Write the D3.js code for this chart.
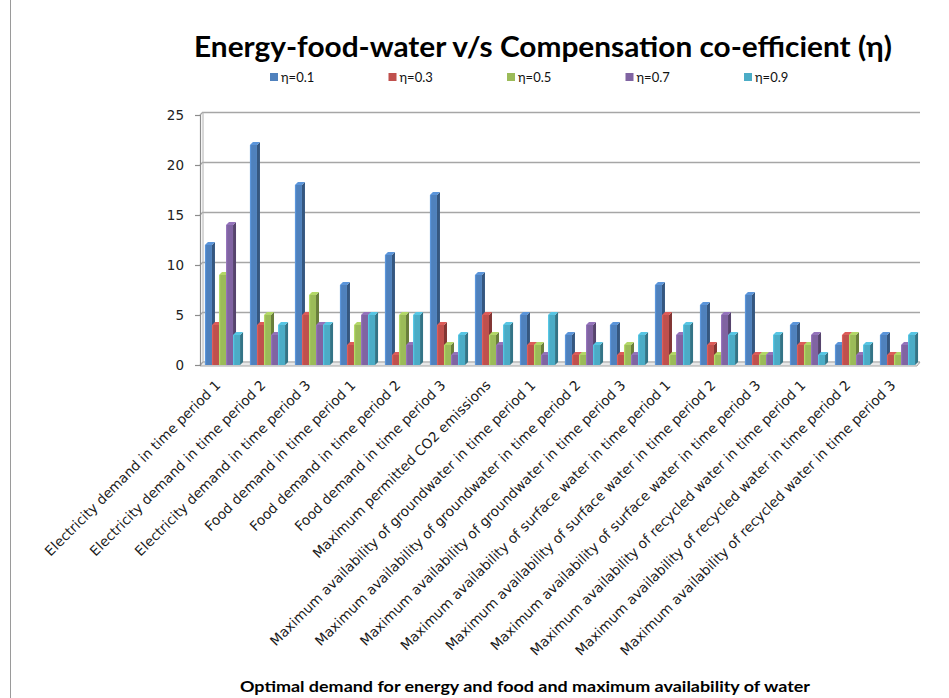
<!DOCTYPE html>
<html>
<head>
<meta charset="utf-8">
<script src="https://cdn.jsdelivr.net/npm/d3@7"></script>
<style>
  html, body { margin: 0; padding: 0; background: #fff; }
  svg { display: block; }
</style>
</head>
<body>
<svg id="chart" width="949" height="698"></svg>
<script>
const categories = [
  "Electricity demand in time period 1",
  "Electricity demand in time period 2",
  "Electricity demand in time period 3",
  "Food demand in time period 1",
  "Food demand in time period 2",
  "Food demand in time period 3",
  "Maximum permitted CO2 emissions",
  "Maximum availability of groundwater in time period 1",
  "Maximum availability of groundwater in time period 2",
  "Maximum availability of groundwater in time period 3",
  "Maximum availability of surface water in time period 1",
  "Maximum availability of surface water in time period 2",
  "Maximum availability of surface water in time period 3",
  "Maximum availability of recycled water in time period 1",
  "Maximum availability of recycled water in time period 2",
  "Maximum availability of recycled water in time period 3"
];
const seriesNames = ["η=0.1", "η=0.3", "η=0.5", "η=0.7", "η=0.9"];
const eta01 = [12, 22, 18, 8, 11, 17, 9, 5, 3, 4, 8, 6, 7, 4, 2, 3];
const eta03 = [4, 4, 5, 2, 1, 4, 5, 2, 1, 1, 5, 2, 1, 2, 3, 1];
const eta05 = [9, 5, 7, 4, 5, 2, 3, 2, 1, 2, 1, 1, 1, 2, 3, 1];
const eta07 = [14, 3, 4, 5, 2, 1, 2, 1, 4, 1, 3, 5, 1, 3, 1, 2];
const eta09 = [3, 4, 4, 5, 5, 3, 4, 5, 2, 3, 4, 3, 3, 1, 2, 3];
const yTicks = [0, 5, 10, 15, 20, 25];
const titleText = "Energy-food-water v/s Compensation co-efficient (η)";
const xTitleText = "Optimal demand for energy and food and maximum availability  of water";

const seriesValues = [eta01, eta03, eta05, eta07, eta09];
const colors = ["#4F81BD", "#C0504D", "#9BBB59", "#8064A2", "#4BACC6"];

const svg = d3.select("#chart");

// chart area border
svg.append("line").attr("x1", 10.5).attr("x2", 10.5).attr("y1", 0).attr("y2", 698)
  .attr("stroke", "#9a9a9a").attr("stroke-width", 1);

const plotL = 200, plotR = 920, plotT = 115, plotB = 365;
const depth = 3;

const x0 = d3.scaleBand().domain(categories).range([plotL, plotR]).paddingInner(0.22).paddingOuter(0.11);
const x1 = d3.scaleBand().domain(seriesNames).range([0, x0.bandwidth()]);
const y = d3.scaleLinear().domain([0, 25]).range([plotB, plotT]);

// gridlines (back wall)
const grid = svg.append("g");
yTicks.forEach(t => {
  const yy = y(t);
  grid.append("line").attr("x1", plotL + depth).attr("x2", plotR)
    .attr("y1", yy - depth + 0.5).attr("y2", yy - depth + 0.5)
    .attr("stroke", "#a6a6a6").attr("stroke-width", 1.6);
  grid.append("line").attr("x1", plotL).attr("x2", plotL + depth)
    .attr("y1", yy).attr("y2", yy - depth)
    .attr("stroke", "#a6a6a6").attr("stroke-width", 1.2);
});
grid.append("line").attr("x1", plotL + depth).attr("x2", plotL + depth)
  .attr("y1", y(25) - depth).attr("y2", y(0) - depth)
  .attr("stroke", "#b0b0b0").attr("stroke-width", 1);

// floor
svg.append("path")
  .attr("d", `M${plotL},${plotB + 1} L${plotR - depth},${plotB + 1} L${plotR},${plotB - depth} L${plotL + depth},${plotB - depth} Z`)
  .attr("fill", "#e8e8e8").attr("stroke", "#a6a6a6").attr("stroke-width", 1);

// y axis
const yAxisG = svg.append("g");
yAxisG.append("line").attr("x1", plotL + 0.5).attr("x2", plotL + 0.5)
  .attr("y1", y(25)).attr("y2", y(0) + 1).attr("stroke", "#8c8c8c").attr("stroke-width", 1.2);
yTicks.forEach(t => {
  yAxisG.append("line").attr("x1", plotL - 5).attr("x2", plotL)
    .attr("y1", y(t) + 0.5).attr("y2", y(t) + 0.5).attr("stroke", "#8c8c8c").attr("stroke-width", 1.2);
  yAxisG.append("text").attr("x", plotL - 16).attr("y", y(t) + 5)
    .attr("text-anchor", "end").attr("font-family", "DejaVu Sans, Verdana, sans-serif")
    .attr("font-size", 13.5).attr("fill", "#222").text(t);
});

// bars with 3D sides
const barsG = svg.append("g");
categories.forEach((c, ci) => {
  seriesValues.forEach((vals, si) => {
    const v = vals[ci];
    const bx = x0(c) + x1(seriesNames[si]);
    const bw = x1.bandwidth();
    const by = y(v);
    const bh = y(0) - by;
    const col = d3.color(colors[si]);
    const g = barsG.append("g");
    g.append("path")
      .attr("d", `M${bx + bw},${by} L${bx + bw + depth},${by - depth} L${bx + bw + depth},${by + bh - depth} L${bx + bw},${by + bh} Z`)
      .attr("fill", col.darker(1.1));
    g.append("path")
      .attr("d", `M${bx},${by} L${bx + depth},${by - depth} L${bx + bw + depth},${by - depth} L${bx + bw},${by} Z`)
      .attr("fill", col.brighter(0.4));
    g.append("rect").attr("x", bx).attr("y", by).attr("width", bw).attr("height", bh)
      .attr("fill", colors[si]);
    g.append("rect").attr("x", bx).attr("y", by).attr("width", 1.2).attr("height", bh)
      .attr("fill", col.brighter(0.6)).attr("opacity", 0.7);
  });
});

// x labels
const xl = svg.append("g");
categories.forEach(c => {
  const cx = x0(c) + x0.bandwidth() / 2;
  xl.append("text")
    .attr("transform", `translate(${cx - 1},${plotB + 21}) rotate(-45)`)
    .attr("text-anchor", "end")
    .attr("font-family", "DejaVu Sans, Verdana, sans-serif")
    .attr("font-size", 13.7).attr("fill", "#1a1a1a")
    .text(c);
});

// title
svg.append("text").attr("x", 543).attr("y", 57).attr("text-anchor", "middle")
  .attr("font-family", "Lato, 'Open Sans', sans-serif").attr("font-weight", "bold")
  .attr("font-size", 28).attr("fill", "#000")
  .attr("textLength", 698).attr("lengthAdjust", "spacingAndGlyphs")
  .text(titleText);

// legend
const legend = svg.append("g");
seriesNames.forEach((n, i) => {
  const lx = 270 + i * 118.5;
  legend.append("rect").attr("x", lx).attr("y", 73).attr("width", 8).attr("height", 8).attr("fill", colors[i]);
  legend.append("text").attr("x", lx + 11).attr("y", 81.5)
    .attr("font-family", "Lato, 'Open Sans', sans-serif").attr("font-size", 13).attr("fill", "#111")
    .text(n);
});

// x axis title
svg.append("text").attr("x", 525).attr("y", 692).attr("text-anchor", "middle")
  .attr("font-family", "Lato, 'Open Sans', sans-serif").attr("font-weight", "bold")
  .attr("font-size", 14.5).attr("fill", "#000")
  .attr("textLength", 570).attr("lengthAdjust", "spacingAndGlyphs")
  .text(xTitleText);
</script>
</body>
</html>
